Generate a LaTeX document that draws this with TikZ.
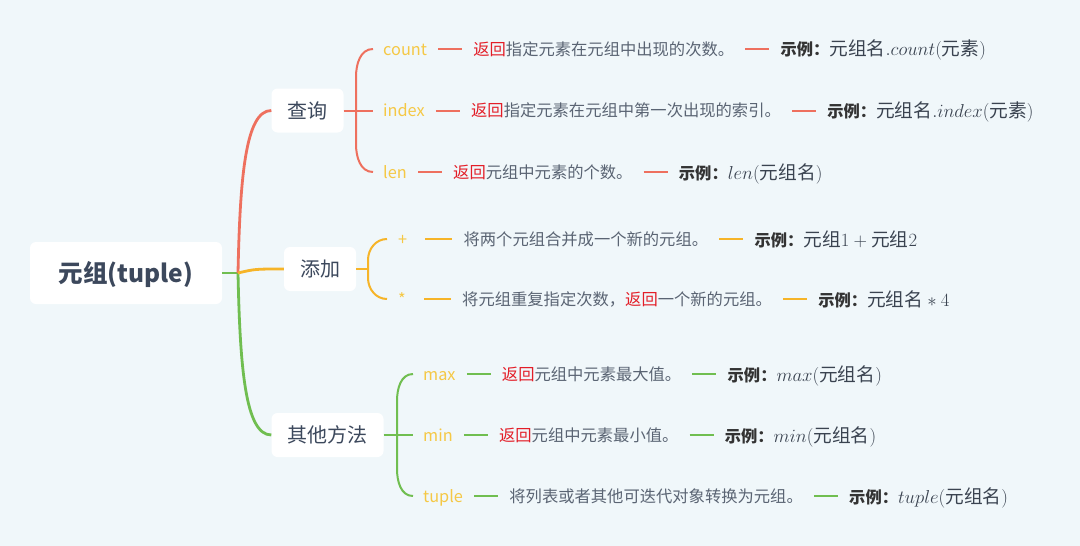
\RequirePackage{fix-cm}
\documentclass[tikz,border=0pt]{standalone}
\usepackage{fontspec}
\setmainfont{Noto Sans CJK SC}
\usetikzlibrary{positioning}

\definecolor{bgcol}{HTML}{F0F7FA}
\definecolor{redbr}{HTML}{EE705E}
\definecolor{orgbr}{HTML}{F6B428}
\definecolor{grnbr}{HTML}{70BE50}
\definecolor{labcol}{HTML}{F5C845}
\definecolor{fancol}{HTML}{E31E28}
\definecolor{desccol}{HTML}{5A6473}
\definecolor{rootcol}{HTML}{3C485C}
\definecolor{excol}{HTML}{3A4350}

\newcommand{\fanhui}{\textcolor{fancol}{返回}}
\newcommand{\shili}{{\fontsize{16.3pt}{20pt}\selectfont\bfseries\color{black!80}示例：}}

\tikzset{
  topbox/.style={fill=white, rounded corners=6pt, text=rootcol},
  subbox/.style={topbox, font=\fontsize{20pt}{24pt}\selectfont, inner xsep=16pt,
    minimum height=44pt, text height=18pt, text depth=3pt},
  leaf/.style={inner sep=0pt, text height=14pt, text depth=2pt,
    font=\fontsize{16.3pt}{20pt}\selectfont},
  lab/.style={leaf, text=labcol},
  desc/.style={leaf, text=desccol},
  ex/.style={leaf, text=excol, text height=15pt, text depth=1pt,
    font=\fontsize{18.7pt}{22pt}\selectfont},
  trunk/.style={line width=2.8pt},
  brace/.style={line width=2pt},
  conn/.style={line width=2pt, shorten <=11pt, shorten >=11pt},
}

\begin{document}
\begin{tikzpicture}[x=1pt, y=1pt]
\fill[bgcol] (0,0) rectangle (1080,-546);
\useasboundingbox (0,0) rectangle (1080,-546);

% root and main branches
\node[topbox, font=\fontsize{24.5pt}{30pt}\selectfont\bfseries, minimum width=192pt,
  minimum height=62pt, text height=21pt, text depth=2pt] (root) at (126,-273) {元组(tuple)};
\node[subbox] (query) at (307.5,-110.5) {查询};
\node[subbox] (add) at (320,-269) {添加};
\node[subbox] (other) at (327.5,-435) {其他方法};

\coordinate (junc) at (238,-273);
\draw[trunk, grnbr] (root.east) -- (junc);
\draw[trunk, redbr] (junc) .. controls (240,-180) and (245,-110.5) .. (query.west);
\draw[trunk, grnbr] (junc) .. controls (240,-366) and (245,-435) .. (other.west);
\draw[trunk, orgbr] (junc) .. controls (255,-269) .. (add.west);

% query
\coordinate (qa) at (373,-49);
\coordinate (qb) at (373,-110.5);
\coordinate (qc) at (373,-172);
\draw[brace, redbr] (qa) to[out=180,in=90] (356,-77) -- (356,-144) to[out=-90,in=180] (qc);
\draw[brace, redbr] (query.east) -- (qb);

\node[lab, right=10pt of qa] (count) {count};
\node[desc, right=46pt of count] (countd) {\fanhui 指定元素在元组中出现的次数。};
\node[ex, right=46pt of countd] (countx) {\shili $\mbox{元组名}.count(\mbox{元素})$};
\draw[conn, redbr] (count) -- (countd);
\draw[conn, redbr] (countd) -- (countx);

\node[lab, right=10pt of qb] (index) {index};
\node[desc, right=46pt of index] (indexd) {\fanhui 指定元素在元组中第一次出现的索引。};
\node[ex, right=46pt of indexd] (indexx) {\shili $\mbox{元组名}.index(\mbox{元素})$};
\draw[conn, redbr] (index) -- (indexd);
\draw[conn, redbr] (indexd) -- (indexx);

\node[lab, right=10pt of qc] (len) {len};
\node[desc, right=46pt of len] (lend) {\fanhui 元组中元素的个数。};
\node[ex, right=46pt of lend] (lenx) {\shili $len(\mbox{元组名})$};
\draw[conn, redbr] (len) -- (lend);
\draw[conn, redbr] (lend) -- (lenx);

% add
\coordinate (aa) at (387,-239);
\coordinate (ab) at (387,-299);
\coordinate (am) at (368,-269);
\draw[brace, orgbr] (aa) to[out=180,in=90] (368,-260) -- (368,-278) to[out=-90,in=180] (ab);
\draw[brace, orgbr] (add.east) -- (am);

\node[lab, right=11pt of aa] (plus) {+};
\node[desc, right=56pt of plus] (plusd) {将两个元组合并成一个新的元组。};
\node[ex, right=46pt of plusd] (plusx) {\shili $\mbox{元组}1+\mbox{元组}2$};
\draw[conn, orgbr, shorten <=18pt] (plus) -- (plusd);
\draw[conn, orgbr] (plusd) -- (plusx);

\node[lab, right=11pt of ab] (times) {*};
\node[desc, right=56pt of times] (timesd) {将元组重复指定次数，\fanhui 一个新的元组。};
\node[ex, right=46pt of timesd] (timesx) {\shili $\mbox{元组名}*4$};
\draw[conn, orgbr, shorten <=18pt] (times) -- (timesd);
\draw[conn, orgbr] (timesd) -- (timesx);

% other
\coordinate (oa) at (413,-374);
\coordinate (ob) at (413,-435);
\coordinate (oc) at (413,-496);
\draw[brace, grnbr] (oa) to[out=180,in=90] (397,-401) -- (397,-469) to[out=-90,in=180] (oc);
\draw[brace, grnbr] (other.east) -- (ob);

\node[lab, right=10pt of oa] (max) {max};
\node[desc, right=46pt of max] (maxd) {\fanhui 元组中元素最大值。};
\node[ex, right=46pt of maxd] (maxx) {\shili $max(\mbox{元组名})$};
\draw[conn, grnbr] (max) -- (maxd);
\draw[conn, grnbr] (maxd) -- (maxx);

\node[lab, right=10pt of ob] (min) {min};
\node[desc, right=46pt of min] (mind) {\fanhui 元组中元素最小值。};
\node[ex, right=46pt of mind] (minx) {\shili $min(\mbox{元组名})$};
\draw[conn, grnbr] (min) -- (mind);
\draw[conn, grnbr] (mind) -- (minx);

\node[lab, right=10pt of oc] (tuple) {tuple};
\node[desc, right=46pt of tuple] (tupled) {将列表或者其他可迭代对象转换为元组。};
\node[ex, right=46pt of tupled] (tuplex) {\shili $tuple(\mbox{元组名})$};
\draw[conn, grnbr] (tuple) -- (tupled);
\draw[conn, grnbr] (tupled) -- (tuplex);
\end{tikzpicture}
\end{document}
